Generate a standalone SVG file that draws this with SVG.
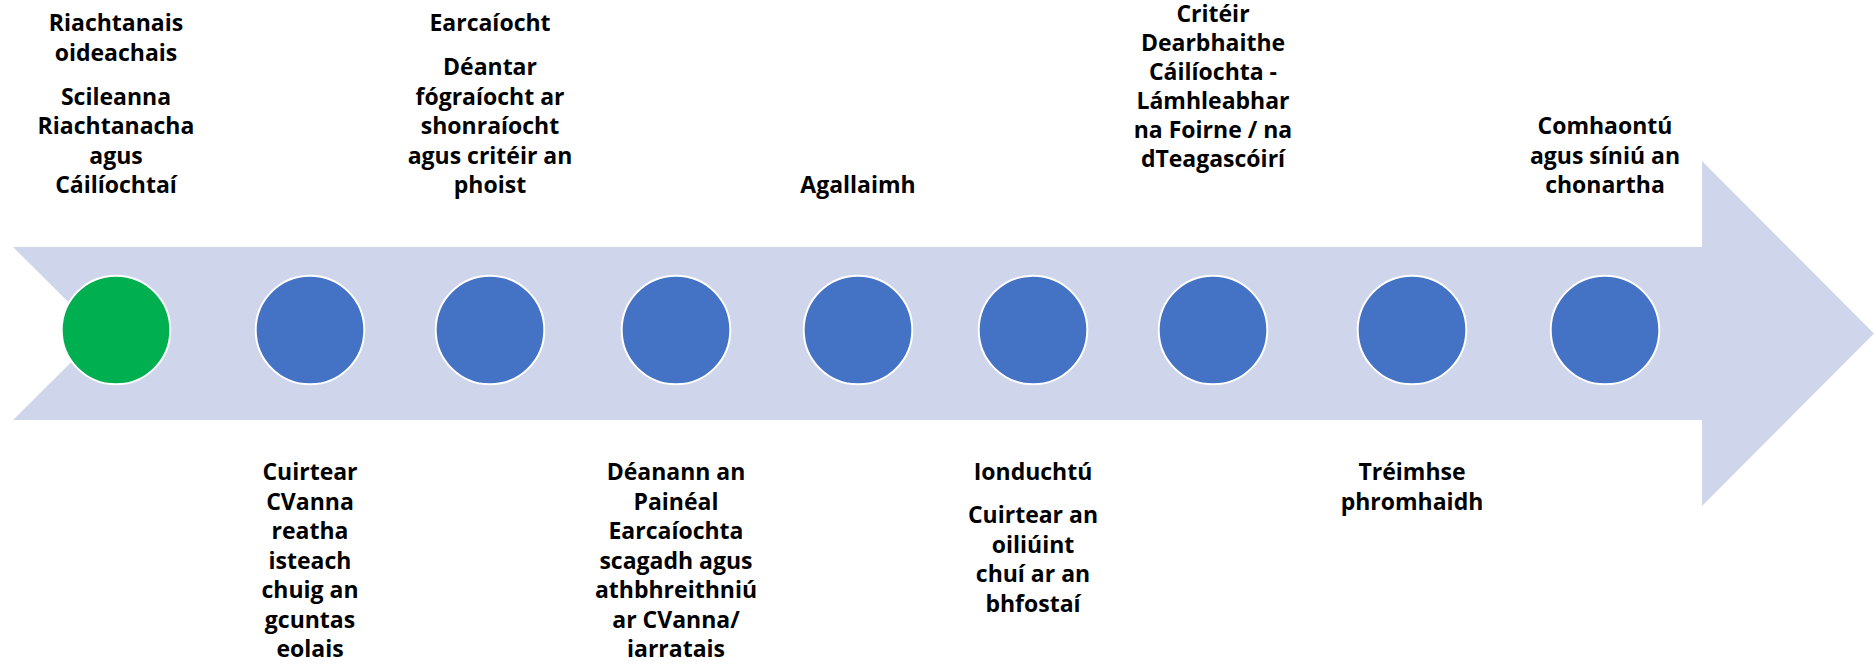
<svg xmlns="http://www.w3.org/2000/svg" width="1876" height="669" viewBox="0 0 1876 669">
  <style>
    .lbl { font-family: "Open Sans", "Liberation Sans", sans-serif; font-weight: 700; font-size: 23px; fill: #000000; text-anchor: middle; }
    .dot { stroke: #FFFFFF; stroke-width: 2; }
    .blue { fill: #4472C4; }
    .green { fill: #00B050; }
  </style>
  <rect width="1876" height="669" fill="#FFFFFF"/>
  <g id="timeline-arrow">
    <polygon points="13,247 1702,247 1702,161 1874,333.5 1702,506 1702,420 13,420 100,333.5" fill="#CFD5EA"/>
  </g>
  <g id="node-1">
    <circle class="dot green" cx="116" cy="330" r="54.3"/>
    <text class="lbl" x="116"><tspan x="116" y="31">Riachtanais</tspan><tspan x="116" y="60.5">oideachais</tspan><tspan x="116" y="104.5">Scileanna</tspan><tspan x="116" y="134">Riachtanacha</tspan><tspan x="116" y="163.5">agus</tspan><tspan x="116" y="193">Cáilíochtaí</tspan></text>
  </g>
  <g id="node-2">
    <circle class="dot blue" cx="310" cy="330" r="54.3"/>
    <text class="lbl" x="310"><tspan x="310" y="480">Cuirtear</tspan><tspan x="310" y="509.5">CVanna</tspan><tspan x="310" y="539">reatha</tspan><tspan x="310" y="568.5">isteach</tspan><tspan x="310" y="598">chuig an</tspan><tspan x="310" y="627.5">gcuntas</tspan><tspan x="310" y="657">eolais</tspan></text>
  </g>
  <g id="node-3">
    <circle class="dot blue" cx="490" cy="330" r="54.3"/>
    <text class="lbl" x="490"><tspan x="490" y="31">Earcaíocht</tspan><tspan x="490" y="75">Déantar</tspan><tspan x="490" y="104.5">fógraíocht ar</tspan><tspan x="490" y="134">shonraíocht</tspan><tspan x="490" y="163.5">agus critéir an</tspan><tspan x="490" y="193">phoist</tspan></text>
  </g>
  <g id="node-4">
    <circle class="dot blue" cx="676" cy="330" r="54.3"/>
    <text class="lbl" x="676"><tspan x="676" y="480">Déanann an</tspan><tspan x="676" y="509.5">Painéal</tspan><tspan x="676" y="539">Earcaíochta</tspan><tspan x="676" y="568.5">scagadh agus</tspan><tspan x="676" y="598">athbhreithniú</tspan><tspan x="676" y="627.5">ar CVanna/</tspan><tspan x="676" y="657">iarratais</tspan></text>
  </g>
  <g id="node-5">
    <circle class="dot blue" cx="858" cy="330" r="54.3"/>
    <text class="lbl" x="858" y="193">Agallaimh</text>
  </g>
  <g id="node-6">
    <circle class="dot blue" cx="1033" cy="330" r="54.3"/>
    <text class="lbl" x="1033"><tspan x="1033" y="480">Ionduchtú</tspan><tspan x="1033" y="523">Cuirtear an</tspan><tspan x="1033" y="552.5">oiliúint</tspan><tspan x="1033" y="582">chuí ar an</tspan><tspan x="1033" y="611.5">bhfostaí</tspan></text>
  </g>
  <g id="node-7">
    <circle class="dot blue" cx="1213" cy="330" r="54.3"/>
    <text class="lbl" x="1213"><tspan x="1213" y="22">Critéir</tspan><tspan x="1213" y="51">Dearbhaithe</tspan><tspan x="1213" y="80">Cáilíochta -</tspan><tspan x="1213" y="109">Lámhleabhar</tspan><tspan x="1213" y="138">na Foirne / na</tspan><tspan x="1213" y="167">dTeagascóirí</tspan></text>
  </g>
  <g id="node-8">
    <circle class="dot blue" cx="1412" cy="330" r="54.3"/>
    <text class="lbl" x="1412"><tspan x="1412" y="480">Tréimhse</tspan><tspan x="1412" y="509.5">phromhaidh</tspan></text>
  </g>
  <g id="node-9">
    <circle class="dot blue" cx="1605" cy="330" r="54.3"/>
    <text class="lbl" x="1605"><tspan x="1605" y="134">Comhaontú</tspan><tspan x="1605" y="163.5">agus síniú an</tspan><tspan x="1605" y="193">chonartha</tspan></text>
  </g>
  <g id="connectors"/>
</svg>
